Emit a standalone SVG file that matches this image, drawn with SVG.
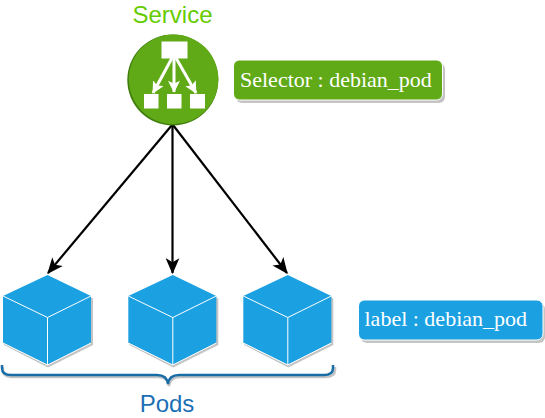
<svg xmlns="http://www.w3.org/2000/svg" width="545" height="418" viewBox="0 0 545 418">
<defs>
<marker id="arr" viewBox="0 0 14 12" refX="13" refY="6" markerWidth="16" markerHeight="14" markerUnits="userSpaceOnUse" orient="auto"><path d="M0 0L14 6L0 12L3.500 6Z" fill="#000"/></marker>
<marker id="warr" viewBox="0 0 14 14" refX="13" refY="7" markerWidth="12" markerHeight="12" markerUnits="userSpaceOnUse" orient="auto"><path d="M0 0L14 7L0 14L3 7Z" fill="#fff"/></marker>
<g id="cube">
<path d="M47.500 277L93 298.500V345L48 367.500L4 345V298.500Z" fill="#c4c4c4"/>
<path d="M47.500 275L91 296V343L47.500 365L3 343V296Z" fill="#1ba1e2"/>
<path d="M3 296L47.500 317.500L91 296M47.500 317.500V365M3 343L47.500 365L91 343" fill="none" stroke="#fff" stroke-width="1"/>
</g>
</defs>
<style>
.t{font-family:"Liberation Serif","Times New Roman",serif;font-size:22px;fill:#fff}
.s{font-family:"Liberation Sans",Arial,sans-serif;font-size:24px}
.w{fill:#fff}
.wl{stroke:#fff;stroke-width:3;fill:none;marker-end:url(#warr)}
.c{stroke:#000;stroke-width:2.200;fill:none;marker-end:url(#arr)}
</style>
<rect width="545" height="418" fill="#fff"/>
<g id="connectors">
<path class="c" d="M172 125L48 273"/>
<path class="c" d="M172.500 125V273"/>
<path class="c" d="M173 125L287 273"/>
</g>
<g id="service">
<circle cx="172.800" cy="80" r="45.500" fill="#3f7d0c"/>
<circle cx="173.600" cy="79.300" r="44.800" fill="#60a917"/>
<rect class="w" x="161.500" y="41.500" width="26" height="17"/>
<path class="wl" d="M172 58L153 93"/>
<path class="wl" d="M174 58V92"/>
<path class="wl" d="M176 58L196 93"/>
<rect class="w" x="144" y="94" width="14.500" height="14.500"/>
<rect class="w" x="167" y="94" width="14.500" height="14.500"/>
<rect class="w" x="190" y="94" width="15" height="14.500"/>
<text class="s" x="172.500" y="23" text-anchor="middle" fill="#66cc00">Service</text>
</g>
<g id="selector">
<rect x="236" y="63" width="209" height="40" rx="6" fill="#c4c4c4"/>
<rect x="233.500" y="60" width="209" height="40" rx="6" fill="#60a917" stroke="#fff" stroke-width="1"/>
<text class="t" x="240" y="87">Selector : debian_pod</text>
</g>
<use id="pod1" href="#cube"/>
<use id="pod2" href="#cube" x="125.300"/>
<use id="pod3" href="#cube" x="240.300"/>
<g id="label">
<rect x="361" y="303" width="184" height="40" rx="6" fill="#c4c4c4"/>
<rect x="358.500" y="300" width="184.500" height="40" rx="6" fill="#1ba1e2" stroke="#fff" stroke-width="1"/>
<text class="t" x="364.500" y="326">label : debian_pod</text>
</g>
<g id="pods">
<path d="M3 367V370Q3 377 12 377H158Q168 377 169 386Q170 377 180 377H325Q335 377 335 370V367" fill="none" stroke="#c4c4c4" stroke-width="2.500"/>
<path d="M2 365V368Q2 375 11 375H157Q167 375 168 384Q169 375 179 375H324Q333 375 333 368V365" fill="none" stroke="#1a6ea8" stroke-width="2.500"/>
<text class="s" x="167" y="412" text-anchor="middle" fill="#1b6fb5">Pods</text>
</g>
</svg>
